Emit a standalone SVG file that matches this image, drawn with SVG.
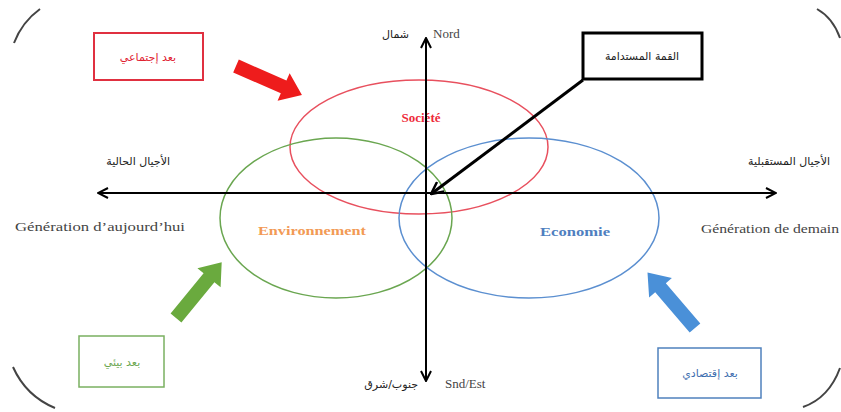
<svg xmlns="http://www.w3.org/2000/svg" width="841" height="412" viewBox="0 0 841 412">
<defs>
<marker id="chev" viewBox="0 0 12 12" refX="11" refY="6" markerWidth="12" markerHeight="12" markerUnits="userSpaceOnUse" orient="auto-start-reverse">
<path d="M1,1 L11,6 L1,11" fill="none" stroke="#000" stroke-width="2"/>
</marker>
<marker id="chev2" viewBox="0 0 14 14" refX="13" refY="7" markerWidth="14" markerHeight="14" markerUnits="userSpaceOnUse" orient="auto">
<path d="M1,1 L13,7 L1,13" fill="none" stroke="#000" stroke-width="2.5"/>
</marker>
</defs>
<style>
.fr{font-family:"Liberation Serif","Times New Roman",serif;fill:#444}
.ar{font-family:"DejaVu Sans","Noto Sans",sans-serif;font-size:11px}
.lbl{font-family:"Liberation Serif",serif;font-weight:bold;font-size:13px}
.corner{fill:none;stroke:#444;stroke-width:2}
.axis{stroke:#000;stroke-width:2;fill:none}
</style>
<rect width="841" height="412" fill="#fff"/>
<!-- corners -->
<path class="corner" d="M14,43 Q22,22 40,9"/>
<path class="corner" d="M817,9 Q833,18 840,38"/>
<path class="corner" d="M13,367 Q26,396 55,408"/>
<path class="corner" d="M840,368 Q829,398 803,407"/>

<g id="societe">
<ellipse cx="419" cy="147" rx="129" ry="67" fill="none" stroke="#e8505e" stroke-width="1.5"/>
<text class="lbl" x="421" y="122" text-anchor="middle" fill="#ee2a3a" font-size="12">Société</text>
</g>
<g id="environnement">
<ellipse cx="336" cy="218" rx="116" ry="80" fill="none" stroke="#6aa650" stroke-width="1.5"/>
<text class="lbl" x="312" y="235" text-anchor="middle" fill="#f29a55" textLength="108" lengthAdjust="spacingAndGlyphs">Environnement</text>
</g>
<g id="economie">
<ellipse cx="529" cy="218" rx="130" ry="80" fill="none" stroke="#5b8fd0" stroke-width="1.5"/>
<text class="lbl" x="575" y="236" text-anchor="middle" fill="#4f7fc0" textLength="70" lengthAdjust="spacingAndGlyphs">Economie</text>
</g>

<g id="connectors">
<line class="axis" x1="98" y1="193" x2="776" y2="193" marker-start="url(#chev)" marker-end="url(#chev)"/>
<line class="axis" x1="426" y1="38" x2="426" y2="381" stroke-width="1.8" marker-start="url(#chev)" marker-end="url(#chev)"/>
<line x1="583" y1="80" x2="431" y2="194" stroke="#000" stroke-width="3" marker-end="url(#chev2)"/>
<polygon fill="#ee1c1c" points="0,-7 52,-7 52,-15 72,0 52,15 52,7 0,7" transform="translate(236,66) rotate(23.7)"/>
<polygon fill="#6aaa3e" points="0,-7 52,-7 52,-15 72,0 52,15 52,7 0,7" transform="translate(176,318) rotate(-50.6)"/>
<polygon fill="#4a90d8" points="0,-7 53,-7 53,-15 73,0 53,15 53,7 0,7" transform="translate(695,328) rotate(-130.6)"/>
</g>

<g id="axis-labels">
<text class="fr" x="433" y="38" font-size="13">Nord</text>
<text class="ar" x="409" y="38" text-anchor="end" fill="#222">شمال</text>
<text class="fr" x="445" y="388" font-size="13">Snd/Est</text>
<text class="ar" x="418" y="388" text-anchor="end" fill="#222">جنوب/شرق</text>
<text class="fr" x="15" y="231" font-size="13.5" textLength="170" lengthAdjust="spacingAndGlyphs">Génération d’aujourd’hui</text>
<text class="fr" x="701" y="233" font-size="13.5" textLength="138" lengthAdjust="spacingAndGlyphs">Génération de demain</text>
<text class="ar" x="170" y="165" text-anchor="end" fill="#222">الأجيال الحالية</text>
<text class="ar" x="830" y="165" text-anchor="end" fill="#222">الأجيال المستقبلية</text>
</g>

<g id="box-social">
<rect x="94" y="33" width="109" height="47" fill="#fff" stroke="#e03040" stroke-width="2"/>
<text class="ar" x="148" y="61" text-anchor="middle" fill="#e02030">بعد إجتماعي</text>
</g>
<g id="box-summit">
<rect x="583" y="33" width="119" height="46" fill="#fff" stroke="#000" stroke-width="3"/>
<text class="ar" x="642" y="60" text-anchor="middle" fill="#222">القمة المستدامة</text>
</g>
<g id="box-env">
<rect x="79" y="336" width="85" height="51" fill="#fff" stroke="#7ab060" stroke-width="1.5"/>
<text class="ar" x="122" y="366" text-anchor="middle" fill="#6aa650">بعد بيئي</text>
</g>
<g id="box-eco">
<rect x="658" y="348" width="103" height="50" fill="#fff" stroke="#4f81bd" stroke-width="1.5"/>
<text class="ar" x="710" y="377" text-anchor="middle" fill="#3f6fb0">بعد إقتصادي</text>
</g>
</svg>
